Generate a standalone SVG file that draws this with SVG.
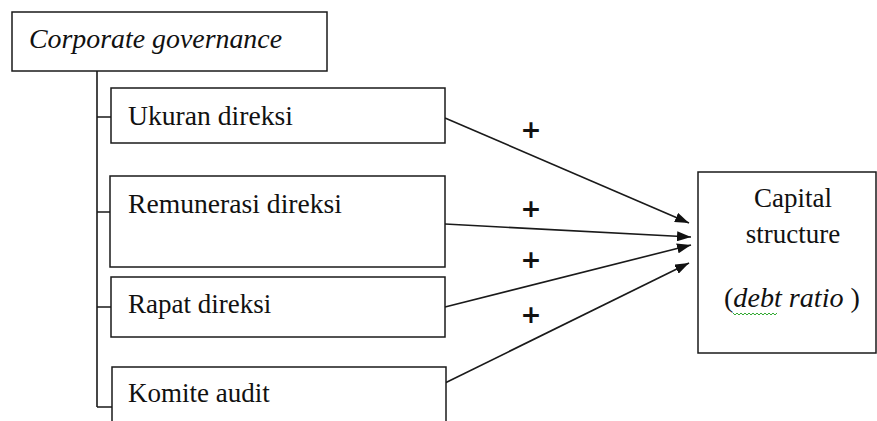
<svg xmlns="http://www.w3.org/2000/svg" width="877" height="421" viewBox="0 0 877 421">
<style>
.box{fill:#fff;stroke:#1a1a1a;stroke-width:1.5}
.t{font-family:"Liberation Serif","Times New Roman",serif;font-size:27px;fill:#111}
.i{font-style:italic}
.c{stroke:#1a1a1a;stroke-width:1.6;fill:none}
.p{font-family:"DejaVu Sans","Liberation Sans",sans-serif;font-size:25px;font-weight:bold;fill:#111}
</style>
<defs>
<marker id="ah" viewBox="0 0 14 10" refX="14" refY="5" markerWidth="14" markerHeight="10" markerUnits="userSpaceOnUse" orient="auto">
<path d="M0,0 L14,5 L0,10 z" fill="#111"/>
</marker>
</defs>
<rect width="877" height="421" fill="#fff"/>
<g id="connectors">
<path class="c" d="M97,71 V407 M97,117 H111 M97,212 H111 M97,307 H111 M97,407 H112"/>
<line class="c" x1="445" y1="118" x2="689" y2="223" marker-end="url(#ah)"/>
<line class="c" x1="445" y1="224" x2="691" y2="237" marker-end="url(#ah)"/>
<line class="c" x1="445" y1="307" x2="691" y2="245" marker-end="url(#ah)"/>
<line class="c" x1="445" y1="383" x2="689" y2="263" marker-end="url(#ah)"/>
<text class="p" x="531" y="138" text-anchor="middle">+</text>
<text class="p" x="531" y="217" text-anchor="middle">+</text>
<text class="p" x="531" y="268" text-anchor="middle">+</text>
<text class="p" x="531" y="323" text-anchor="middle">+</text>
</g>
<g id="corporate-governance">
<rect class="box" x="12" y="12" width="315" height="59"/>
<text class="t i" x="29" y="48" textLength="253" lengthAdjust="spacingAndGlyphs">Corporate governance</text>
</g>
<g id="ukuran-direksi">
<rect class="box" x="111" y="88" width="334" height="55"/>
<text class="t" x="128" y="125" textLength="165" lengthAdjust="spacingAndGlyphs">Ukuran direksi</text>
</g>
<g id="remunerasi-direksi">
<rect class="box" x="110" y="176" width="335" height="91"/>
<text class="t" x="128" y="213" textLength="214" lengthAdjust="spacingAndGlyphs">Remunerasi direksi</text>
</g>
<g id="rapat-direksi">
<rect class="box" x="111" y="277" width="334" height="60"/>
<text class="t" x="128" y="313">Rapat direksi</text>
</g>
<g id="komite-audit">
<rect class="box" x="112" y="367" width="334" height="70"/>
<text class="t" x="128" y="402">Komite audit</text>
</g>
<g id="capital-structure">
<rect class="box" x="698" y="172" width="178" height="181"/>
<text class="t" x="793" y="207" text-anchor="middle">Capital</text>
<text class="t" x="793" y="243" text-anchor="middle">structure</text>
<text class="t" x="792" y="307" text-anchor="middle" textLength="136" lengthAdjust="spacingAndGlyphs">(<tspan class="i">debt ratio</tspan> )</text>
<path d="M733,313 l2,2 2,-2 2,2 2,-2 2,2 2,-2 2,2 2,-2 2,2 2,-2 2,2 2,-2 2,2 2,-2 2,2 2,-2 2,2 2,-2 2,2 2,-2 2,2 2,-2" fill="none" stroke="#3a3" stroke-width="1"/>
</g>
</svg>
